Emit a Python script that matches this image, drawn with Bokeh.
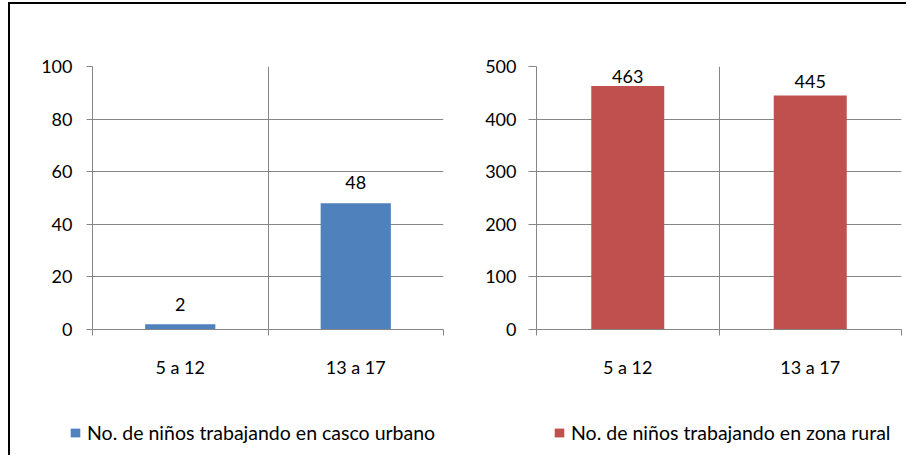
from bokeh.plotting import figure
from bokeh.models import (ColumnDataSource, FactorRange, Range1d, LinearAxis,
                          FixedTicker, Legend, LegendItem, Grid)
from bokeh.layouts import row, column
from bokeh.embed import file_html
from bokeh.resources import INLINE
from bokeh.core.properties import value

# ---- data ----
categories = ["5 a 12", "13 a 17"]
urban_values = [2, 48]
rural_values = [463, 445]
urban_label = "No. de niños trabajando en casco urbano"
rural_label = "No. de niños trabajando en zona rural"
urban_yticks = [0, 20, 40, 60, 80, 100]
rural_yticks = [0, 100, 200, 300, 400, 500]

FONT = "Lato"
FSIZE = "18px"
LSIZE = "19.5px"
GRID = "#868686"
TEXT = "#000000"
BLUE = "#4F81BD"
RED = "#C0504D"


def make_chart(values, yticks, color, width, height,
               mb_left, mb_right, mb_top, mb_bottom, ytick_out, ystandoff,
               label_offsets):
    n = len(categories)
    src = ColumnDataSource(dict(cat=categories, val=values,
                                txt=[str(v) for v in values],
                                off=label_offsets))
    p = figure(x_range=FactorRange(factors=categories, range_padding=0),
               y_range=Range1d(yticks[0], yticks[-1]),
               width=width, height=height, output_backend="svg",
               toolbar_location=None, x_axis_location=None, y_axis_location=None,
               min_border_left=mb_left, min_border_right=mb_right,
               min_border_top=mb_top, min_border_bottom=mb_bottom)
    p.outline_line_color = None
    p.background_fill_color = "white"
    p.border_fill_color = "white"
    p.center = [c for c in p.center if not isinstance(c, Grid)]

    # category boundaries in the factor range's synthetic coordinates
    bounds = list(range(n + 1))
    centers = [i + 0.5 for i in range(n)]

    p.add_layout(Grid(dimension=1, ticker=FixedTicker(ticks=yticks),
                      grid_line_color=GRID, grid_line_width=1))
    p.add_layout(Grid(dimension=0, ticker=FixedTicker(ticks=bounds),
                      grid_line_color=GRID, grid_line_width=1))

    p.vbar(x="cat", top="val", width=0.4, source=src,
           fill_color=color, line_color=None)
    p.text(x="cat", y="val", text="txt", source=src, text_align="center",
           text_baseline="alphabetic", y_offset="off",
           text_font=value(FONT), text_font_size=FSIZE, text_color=TEXT)

    yaxis = LinearAxis(ticker=FixedTicker(ticks=yticks))
    yaxis.axis_line_color = GRID
    yaxis.major_tick_line_color = GRID
    yaxis.major_tick_out = ytick_out
    yaxis.major_tick_in = 0
    yaxis.minor_tick_line_color = None
    yaxis.major_label_standoff = ystandoff
    yaxis.major_label_text_font = FONT
    yaxis.major_label_text_font_size = FSIZE
    yaxis.major_label_text_color = TEXT
    p.add_layout(yaxis, "left")

    xaxis = LinearAxis(ticker=FixedTicker(ticks=centers, minor_ticks=bounds),
                       major_label_overrides={c: f for c, f in zip(centers, categories)})
    xaxis.axis_line_color = GRID
    xaxis.major_tick_line_color = None
    xaxis.major_tick_out = 0
    xaxis.major_tick_in = 0
    xaxis.minor_tick_line_color = GRID
    xaxis.minor_tick_out = 6
    xaxis.minor_tick_in = 0
    xaxis.major_label_standoff = 20
    xaxis.major_label_text_font = FONT
    xaxis.major_label_text_font_size = FSIZE
    xaxis.major_label_text_color = TEXT
    p.add_layout(xaxis, "below")
    return p


def make_legend(values, color, label, width, height, loc):
    src = ColumnDataSource(dict(cat=categories, val=values))
    p = figure(x_range=FactorRange(factors=categories), y_range=Range1d(0, 1),
               width=width, height=height, output_backend="svg",
               toolbar_location=None, x_axis_location=None, y_axis_location=None,
               min_border=0)
    p.outline_line_color = None
    p.center = [c for c in p.center if not isinstance(c, Grid)]
    # series renderer kept only to supply the legend swatch
    r = p.vbar(x="cat", top="val", width=0.4, source=src,
               fill_color=color, line_color=None, visible=False)
    legend = Legend(items=[LegendItem(label=label, renderers=[r])],
                    location=loc, orientation="horizontal",
                    glyph_width=12, glyph_height=11, label_standoff=6,
                    label_text_font=FONT, label_text_font_size=LSIZE,
                    label_text_color=TEXT, padding=0, margin=0, spacing=0,
                    border_line_color=None, background_fill_alpha=0,
                    inactive_fill_alpha=0)
    p.add_layout(legend)
    return p


left = make_chart(urban_values, urban_yticks, BLUE,
                  width=456, height=396, mb_left=82, mb_right=23,
                  mb_top=62, mb_bottom=69, ytick_out=6, ystandoff=14,
                  label_offsets=[-20, -21])
right = make_chart(rural_values, rural_yticks, RED,
                   width=440, height=396, mb_left=70, mb_right=5,
                   mb_top=61, mb_bottom=71, ytick_out=8, ystandoff=12,
                   label_offsets=[-9, -14])
left_leg = make_legend(urban_values, BLUE, urban_label, 456, 55, (59, 11))
right_leg = make_legend(rural_values, RED, rural_label, 440, 55, (87, 11))

layout = column(row(left, right), row(left_leg, right_leg),
                styles={"border-top": "2px solid black",
                        "border-left": "2px solid black",
                        "margin-left": "8px", "margin-top": "2px"})

open("out.html", "w").write(file_html(layout, INLINE))
